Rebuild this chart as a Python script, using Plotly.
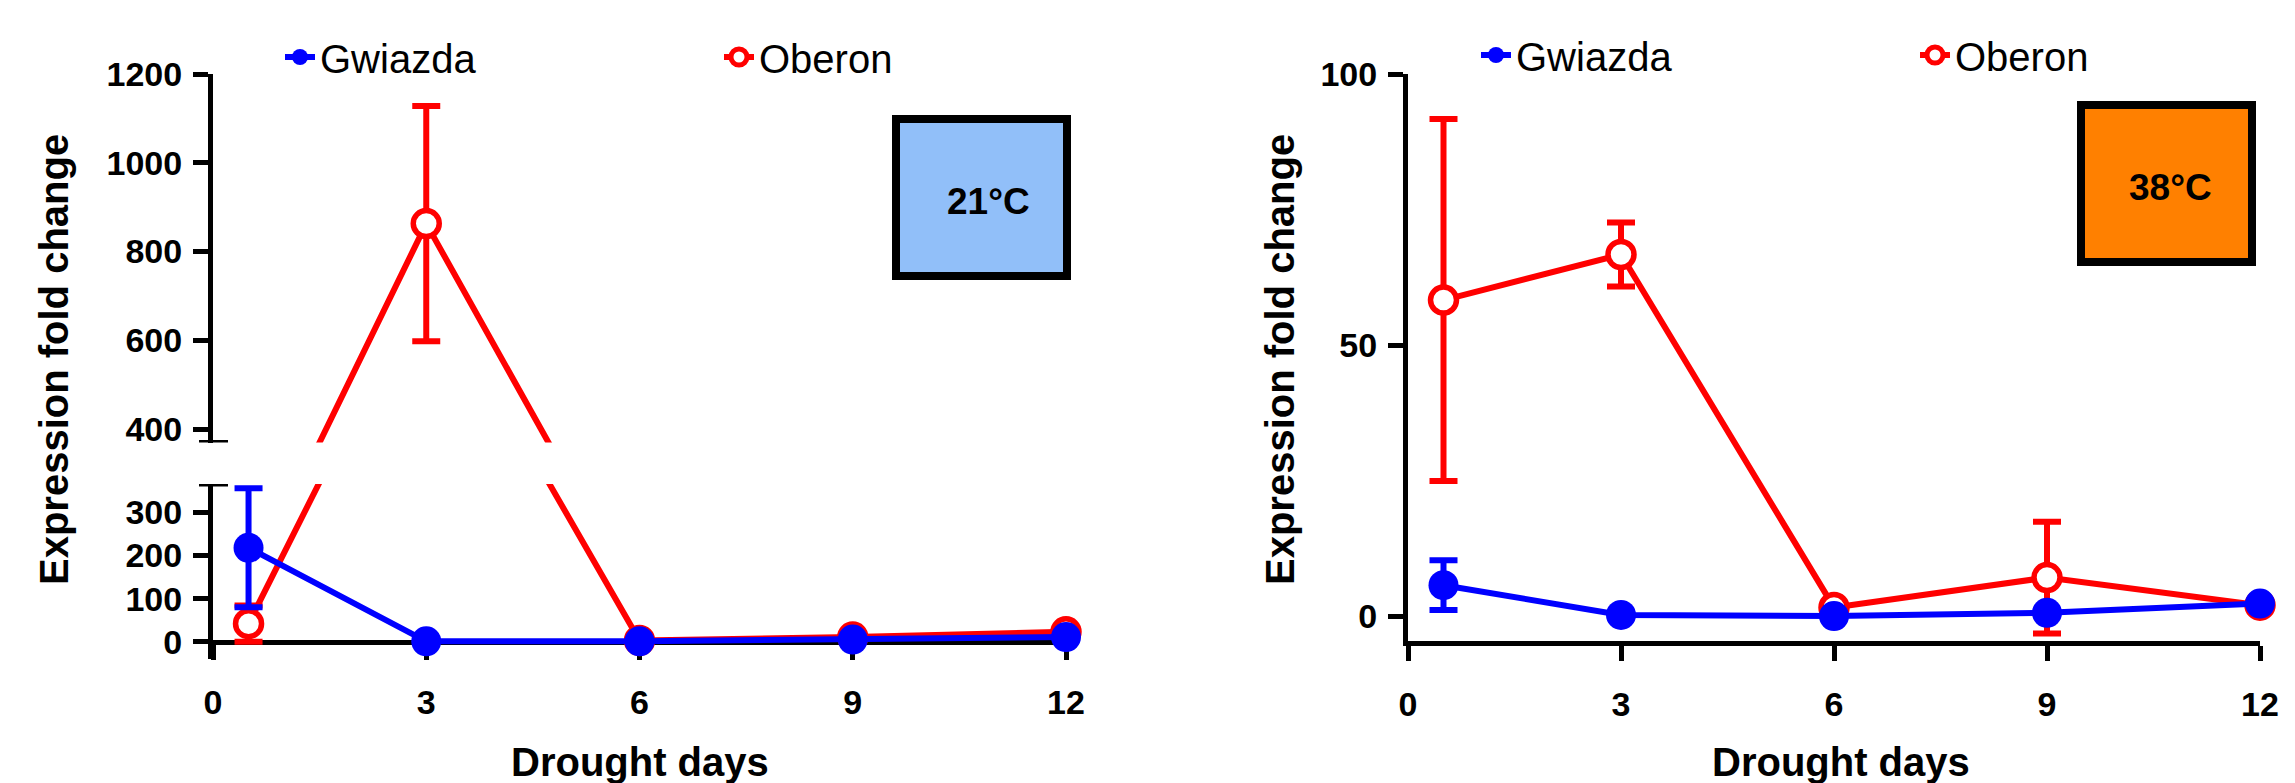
import plotly.graph_objects as go

# ---------------- data ----------------
days = [0.5, 3, 6, 9, 12]
x_ticks = [0, 3, 6, 9, 12]

# 21 °C panel
gw21 = [218, 1, 1, 5, 11]
gw21_err = [138, 0, 0, 0, 0]
ob21 = [42, 863, 3, 11, 23]
ob21_err = [42, 265, 0, 0, 0]

# 38 °C panel
gw38 = [5.7, 0.2, 0.0, 0.6, 2.3]
gw38_err = [4.6, 0, 0, 0, 0]
ob38 = [58.3, 66.7, 1.6, 7.1, 2.0]
ob38_err = [33.4, 5.9, 0, 10.3, 0]

lower_ticks = [0, 100, 200, 300]
upper_ticks = [400, 600, 800, 1000, 1200]
right_ticks = [0, 50, 100]

# broken axis ranges (left panel)
LOWER_RANGE = [-40, 366]
UPPER_RANGE = [370, 1200]
RIGHT_RANGE = [-4.6, 100]

BLUE = "#0000FF"
RED = "#FF0000"
FONT = "Liberation Sans, Arial, sans-serif"

W, H = 2295, 783
OFF = 8  # page offset of the figure inside the browser window


def px_x(p):
    return (p - OFF) / W


def px_y(p):
    return 1 - (p - OFF) / H


fig = go.Figure()

LW = 6
MS = 30
LEG_W = 394


def err(arr):
    return dict(type="data", array=arr, visible=True, thickness=LW, width=14)


open_marker = dict(symbol="circle", size=MS - 4, color="white", line=dict(color=RED, width=5.5))

# ---- left panel, upper segment: Oberon (clipped lines + markers)
fig.add_trace(go.Scatter(
    x=days, y=ob21, mode="lines+markers", name="Oberon",
    xaxis="x", yaxis="y2", cliponaxis=True,
    line=dict(color=RED, width=LW), marker=open_marker,
    error_y=dict(err(ob21_err), color=RED),
    legend="legend", legendrank=2, showlegend=True,
))
# ---- left panel, lower segment: Oberon line (clipped)
fig.add_trace(go.Scatter(
    x=days, y=ob21, mode="lines", name="Oberon",
    xaxis="x", yaxis="y",
    line=dict(color=RED, width=LW), showlegend=False,
))
lo_idx = [i for i, v in enumerate(ob21) if v <= LOWER_RANGE[1]]
fig.add_trace(go.Scatter(
    x=[days[i] for i in lo_idx], y=[ob21[i] for i in lo_idx], mode="markers", name="Oberon",
    xaxis="x", yaxis="y", cliponaxis=False, marker=open_marker,
    error_y=dict(err([ob21_err[i] for i in lo_idx]), color=RED),
    showlegend=False,
))
fig.add_trace(go.Scatter(
    x=days, y=gw21, mode="lines+markers", name="Gwiazda",
    xaxis="x", yaxis="y", cliponaxis=False,
    line=dict(color=BLUE, width=LW),
    marker=dict(symbol="circle", size=MS, color=BLUE),
    error_y=dict(err(gw21_err), color=BLUE),
    legend="legend", legendrank=1, legendwidth=LEG_W, showlegend=True,
))

# ---- right panel
fig.add_trace(go.Scatter(
    x=days, y=ob38, mode="lines+markers", name="Oberon",
    xaxis="x2", yaxis="y3", cliponaxis=False,
    line=dict(color=RED, width=LW), marker=open_marker,
    error_y=dict(err(ob38_err), color=RED),
    legend="legend2", legendrank=2, showlegend=True,
))
fig.add_trace(go.Scatter(
    x=days, y=gw38, mode="lines+markers", name="Gwiazda",
    xaxis="x2", yaxis="y3", cliponaxis=False,
    line=dict(color=BLUE, width=LW),
    marker=dict(symbol="circle", size=MS, color=BLUE),
    error_y=dict(err(gw38_err), color=BLUE),
    legend="legend2", legendrank=1, legendwidth=LEG_W, showlegend=True,
))

tickfont = dict(family=FONT, size=34, color="black", weight="bold")
axis_common = dict(
    showline=True, linecolor="black", linewidth=5, mirror=False,
    ticks="outside", ticklen=15, tickwidth=5, tickcolor="black",
    showgrid=False, zeroline=False, tickfont=tickfont, layer="below traces",
    fixedrange=True, automargin=False,
)

left_dom = [px_x(213), px_x(1066)]
right_dom = [px_x(1408), px_x(2260)]

legend_common = dict(orientation="h", xanchor="left", yanchor="middle",
                     font=dict(family=FONT, size=40, color="black"),
                     bgcolor="rgba(0,0,0,0)", itemsizing="trace", traceorder="normal")

fig.update_layout(
    width=W, height=H, autosize=False,
    margin=dict(l=0, r=0, t=0, b=0, autoexpand=False),
    paper_bgcolor="white", plot_bgcolor="rgba(0,0,0,0)",
    font=dict(family=FONT, color="black"),
    xaxis=dict(axis_common, domain=left_dom, range=[0, 12], tickmode="array",
               tickvals=x_ticks, anchor="free", position=px_y(641.5), ticklabelstandoff=14),
    yaxis=dict(axis_common, domain=[px_y(659), px_y(484)], range=LOWER_RANGE,
               tickmode="array", tickvals=lower_ticks, anchor="x", ticklabelstandoff=4),
    yaxis2=dict(axis_common, domain=[px_y(442.5), px_y(74)], range=UPPER_RANGE,
                tickmode="array", tickvals=upper_ticks, anchor="x", ticklabelstandoff=4),
    xaxis2=dict(axis_common, domain=right_dom, range=[0, 12], tickmode="array",
                tickvals=x_ticks, anchor="y3", ticklabelstandoff=14),
    yaxis3=dict(axis_common, domain=[px_y(641), px_y(74)], range=RIGHT_RANGE,
                tickmode="array", tickvals=right_ticks, anchor="x2", ticklabelstandoff=4),
    legend=dict(legend_common, x=px_x(280), y=px_y(57)),
    legend2=dict(legend_common, x=px_x(1476), y=px_y(55)),
    showlegend=True,
)

# axis break marks on the left panel
for yref, yv in (("y2", UPPER_RANGE[0]), ("y", LOWER_RANGE[1])):
    fig.add_shape(type="line", xref="x domain", yref=yref,
                  x0=-0.0164, x1=0.0176, y0=yv, y1=yv,
                  line=dict(color="black", width=5))

# temperature boxes
fig.add_shape(type="rect", xref="paper", yref="paper",
              x0=px_x(896), x1=px_x(1067), y0=px_y(276), y1=px_y(119),
              fillcolor="#91BFF9", line=dict(color="black", width=8), layer="above")
fig.add_shape(type="rect", xref="paper", yref="paper",
              x0=px_x(2081), x1=px_x(2252), y0=px_y(262), y1=px_y(105),
              fillcolor="#FF8000", line=dict(color="black", width=8), layer="above")

box_font = dict(family=FONT, size=37, color="black", weight="bold")
fig.add_annotation(text="21°C", xref="paper", yref="paper", x=px_x(988), y=px_y(201),
                   showarrow=False, font=box_font, xanchor="center", yanchor="middle")
fig.add_annotation(text="38°C", xref="paper", yref="paper", x=px_x(2170), y=px_y(187),
                   showarrow=False, font=box_font, xanchor="center", yanchor="middle")

# axis titles
title_font = dict(family=FONT, size=40, color="black", weight="bold")
for xc in (54, 1280):
    fig.add_annotation(text="Expression fold change", xref="paper", yref="paper",
                       x=px_x(xc), y=px_y(360), textangle=-90, showarrow=False,
                       font=title_font, xanchor="center", yanchor="middle")
for xc in (640, 1841):
    fig.add_annotation(text="Drought days", xref="paper", yref="paper",
                       x=px_x(xc), y=px_y(786), showarrow=False,
                       font=title_font, xanchor="center", yanchor="bottom")

fig.write_html("out.html")
